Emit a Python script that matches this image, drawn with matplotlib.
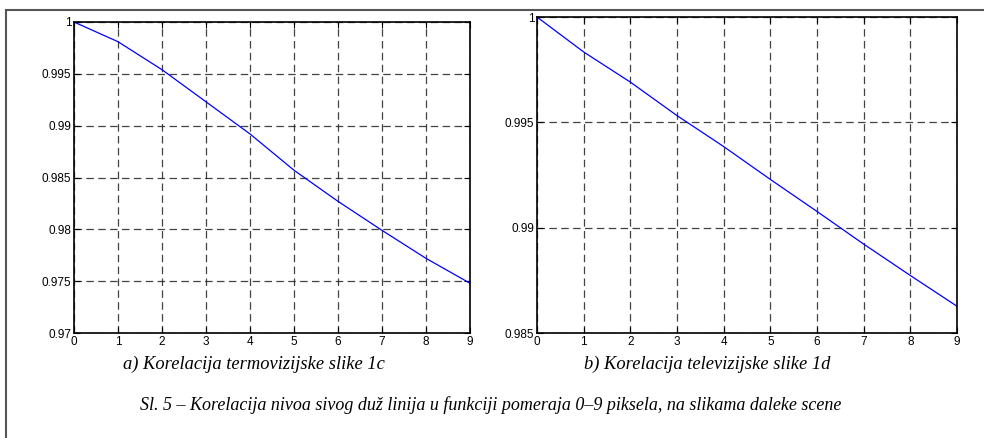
import matplotlib
matplotlib.use("Agg")
import matplotlib.pyplot as plt
from matplotlib.lines import Line2D

shift = [0, 1, 2, 3, 4, 5, 6, 7, 8, 9]
corr_thermo = [1.0, 0.9981, 0.9954, 0.9923, 0.9892, 0.9857, 0.9827, 0.9799, 0.9772, 0.9748]
corr_tv = [1.0, 0.99834, 0.99691, 0.99532, 0.99385, 0.99229, 0.99077, 0.98922, 0.98773, 0.98627]
yticks_a = [0.97, 0.975, 0.98, 0.985, 0.99, 0.995, 1]
ytick_labels_a = ["0.97", "0.975", "0.98", "0.985", "0.99", "0.995", "1"]
yticks_b = [0.985, 0.99, 0.995, 1]
ytick_labels_b = ["0.985", "0.99", "0.995", "1"]
caption_a = "a) Korelacija termovizijske slike 1c"
caption_b = "b) Korelacija televizijske slike 1d"
caption_main = "Sl. 5 – Korelacija nivoa sivog duž linija u funkciji pomeraja 0–9 piksela, na slikama daleke scene"

W, H = 984, 438
fig = plt.figure(figsize=(W / 100, H / 100), dpi=100)

def box(l, r, t, b):
    return [l / W, 1 - b / H, (r - l) / W, (b - t) / H]

tick_font = dict(family="Liberation Sans", size=8.5)

def style(ax, yt, ytl, ylim):
    ax.set_xlim(0, 9)
    ax.set_ylim(*ylim)
    ax.set_xticks(shift)
    ax.set_xticklabels([str(s) for s in shift], fontdict=tick_font)
    ax.set_yticks(yt)
    ax.set_yticklabels(ytl, fontdict=tick_font)
    ax.tick_params(direction="in", length=4, width=0.8, top=True, right=True, pad=2)
    ax.grid(True, color="#222222", linestyle=(0, (6, 3.5)), linewidth=0.9, alpha=0.85)
    for s in ax.spines.values():
        s.set_linewidth(1.2)

ax1 = fig.add_axes(box(74, 470, 22, 333))
ax1.plot(shift, corr_thermo, color="#0000ff", linewidth=0.9)
style(ax1, yticks_a, ytick_labels_a, (0.97, 1.0))

ax2 = fig.add_axes(box(537, 957, 17, 333))
ax2.plot(shift, corr_tv, color="#0000ff", linewidth=0.9)
style(ax2, yticks_b, ytick_labels_b, (0.985, 1.0))

serif = dict(family="Liberation Serif", style="italic")
fig.text(254 / W, 1 - 364 / H, caption_a, ha="center", va="center", size=13.3, **serif)
fig.text(707 / W, 1 - 364 / H, caption_b, ha="center", va="center", size=13.3, **serif)
fig.text(491 / W, 1 - 405 / H, caption_main, ha="center", va="center", size=13, **serif)

# page frame (top and left rule)
fig.add_artist(Line2D([6 / W, 1], [1 - 9.5 / H, 1 - 9.5 / H], color="#555555", linewidth=1.5, transform=fig.transFigure))
fig.add_artist(Line2D([6 / W, 6 / W], [1 - 9.5 / H, 0], color="#555555", linewidth=1.5, transform=fig.transFigure))

fig.savefig("out.png", dpi=100)
